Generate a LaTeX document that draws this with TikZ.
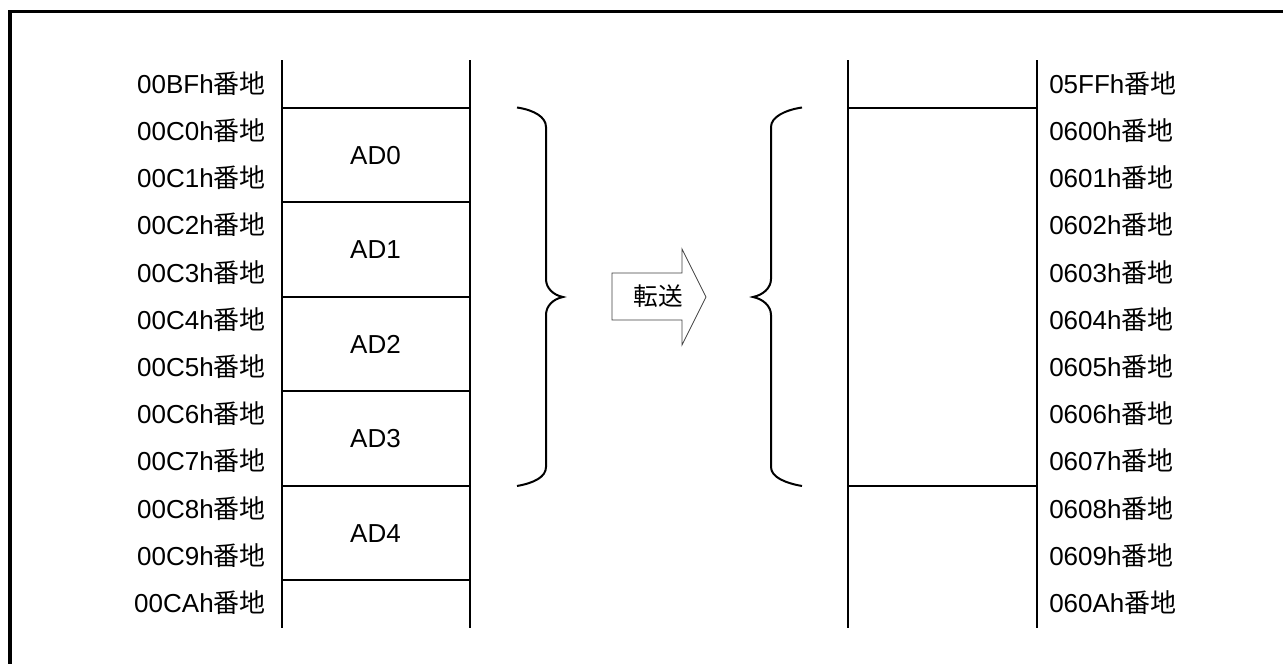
\documentclass[tikz,border=0pt]{standalone}
\usepackage{fontspec}
\setmainfont{Liberation Sans}
\newfontfamily\cjk{Noto Sans CJK JP}
\newcommand{\banchi}{{\cjk 番地}}
\tikzset{
  lbl/.style={font=\fontsize{19.5}{22}\selectfont, inner sep=0pt},
  mem/.style={line width=1.5pt},
  brace/.style={line width=1.5pt},
  frame/.style={line width=2.4pt},
  blockarrow/.style={line width=0.6pt, draw=black!75, fill=white},
}
\begin{document}
\begin{tikzpicture}[x=0.75pt,y=-0.75pt]
\useasboundingbox (0,0) rectangle (1283,664);
\clip (0,0) rectangle (1283,664);
% outer frame (only left and top visible)
\coordinate (fb) at (10,700);
\coordinate (fc) at (10,11.7);
\coordinate (fr) at (1320,11.7);
\draw[frame] (fb) -- (fc) -- (fr);

% left memory column
\coordinate (LTa) at (281.5,60);  \coordinate (LBa) at (281.5,628);
\coordinate (LTb) at (469.5,60);  \coordinate (LBb) at (469.5,628);
\draw[mem] (LTa) -- (LBa);
\draw[mem] (LTb) -- (LBb);
\foreach \k in {0,...,5} {
  \coordinate (Lh\k a) at (281.5,108+94.4*\k);
  \coordinate (Lh\k b) at (469.5,108+94.4*\k);
  \draw[mem] (Lh\k a) -- (Lh\k b);
}
\foreach \t [count=\i from 0] in {00BF,00C0,00C1,00C2,00C3,00C4,00C5,00C6,00C7,00C8,00C9,00CA} {
  \node[lbl, anchor=base east] (L\i) at (266,84+47.2*\i+9.3) {\t h\banchi};
}
\foreach \i in {0,...,4} {
  \node[lbl, anchor=base] (AD\i) at (375.5,155.2+94.4*\i+9.3) {AD\i};
}

% right memory column
\coordinate (RTa) at (847.5,60);  \coordinate (RBa) at (847.5,628);
\coordinate (RTb) at (1036.5,60); \coordinate (RBb) at (1036.5,628);
\draw[mem] (RTa) -- (RBa);
\draw[mem] (RTb) -- (RBb);
\coordinate (Rh0a) at (847.5,108);   \coordinate (Rh0b) at (1036.5,108);
\coordinate (Rh1a) at (847.5,485.6); \coordinate (Rh1b) at (1036.5,485.6);
\draw[mem] (Rh0a) -- (Rh0b);
\draw[mem] (Rh1a) -- (Rh1b);
\foreach \t [count=\i from 0] in {05FF,0600,0601,0602,0603,0604,0605,0606,0607,0608,0609,060A} {
  \node[lbl, anchor=base west] (R\i) at (1049,84+47.2*\i+9.3) {\t h\banchi};
}

% left brace }
\coordinate (b1t) at (517,107.5);
\coordinate (b1tip) at (563,297);
\coordinate (b1b) at (517,486);
\draw[brace] (b1t) .. controls (534,110) and (546,117) .. (546,127)
  -- (546,279) .. controls (546,288) and (553,295) .. (b1tip)
  .. controls (553,299) and (546,306) .. (546,315)
  -- (546,467) .. controls (546,477) and (534,483) .. (b1b);

% right brace {
\coordinate (b2t) at (802,107.5);
\coordinate (b2tip) at (753,297);
\coordinate (b2b) at (802,486);
\draw[brace] (b2t) .. controls (785,110) and (771,117) .. (771,127)
  -- (771,279) .. controls (771,288) and (763,295) .. (b2tip)
  .. controls (763,299) and (771,306) .. (771,315)
  -- (771,467) .. controls (771,477) and (785,483) .. (b2b);

% transfer arrow
\coordinate (a1) at (612,273);
\coordinate (a2) at (682,273);
\coordinate (a3) at (682,249);
\coordinate (a4) at (706,297);
\coordinate (a5) at (682,345);
\coordinate (a6) at (682,320);
\coordinate (a7) at (612,320);
\draw[blockarrow] (a1) -- (a2) -- (a3) -- (a4) -- (a5) -- (a6) -- (a7) -- cycle;
\node[lbl, font=\cjk\fontsize{18.5}{20}\selectfont] (xfer) at (658,296) {転送};
\end{tikzpicture}
\end{document}
